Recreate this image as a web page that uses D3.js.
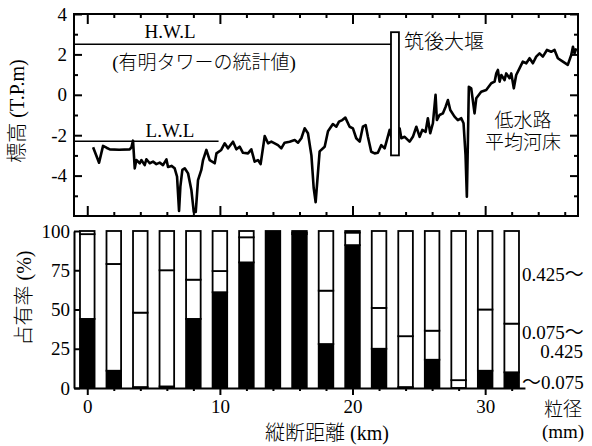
<!DOCTYPE html>
<html><head><meta charset="utf-8">
<script src="https://cdn.jsdelivr.net/npm/d3@7"></script>
<style>
body{margin:0;background:#fff;}
svg{display:block;}
text{font-family:"Liberation Serif","Noto Sans CJK JP",serif;fill:#000;}
.jp{font-weight:300;}
</style></head><body>
<svg id="chart" width="592" height="446"></svg>
<script>
// Longitudinal bed profile of the low-water channel (km, T.P.m)
const profileKm = [0.44,0.89,1.19,1.45,1.70,2.40,3.20,3.33,3.45,3.58,3.70,3.96,4.08,4.33,4.46,4.71,4.96,5.21,5.46,5.71,5.97,6.09,6.35,6.59,6.77,6.92,7.02,7.17,7.35,7.60,7.85,8.03,8.18,8.35,8.60,8.73,8.98,9.23,9.61,9.74,10.10,10.36,10.61,10.99,11.24,11.49,11.74,12.12,12.37,12.62,12.87,13.07,13.38,13.63,13.88,14.38,14.63,14.88,15.26,15.64,15.89,16.14,16.39,16.64,16.90,17.07,17.22,17.40,17.52,17.90,18.15,18.52,18.78,18.98,19.23,19.46,19.78,20.03,20.28,20.54,20.78,20.99,21.16,21.41,21.67,21.91,22.17,22.42,22.59,22.80,22.92,23.55,23.68,23.93,24.30,24.55,24.81,25.06,25.26,25.51,25.68,25.86,26.06,26.26,26.36,26.56,26.81,27.02,27.19,27.37,27.69,27.94,28.20,28.37,28.52,28.62,28.70,28.77,28.95,29.20,29.33,29.70,30.08,30.46,30.71,30.84,30.96,31.09,31.22,31.46,31.59,31.84,31.97,32.16,32.34,32.59,32.84,33.10,33.35,33.60,33.85,34.10,34.35,34.66,34.98,35.23,35.48,35.86,36.23,36.49,36.62,36.74,36.87];
const profileElev = [-2.60,-3.36,-2.53,-2.62,-2.70,-2.72,-2.70,-2.60,-2.27,-3.64,-3.23,-3.39,-3.23,-3.48,-3.19,-3.39,-3.31,-3.43,-3.36,-3.48,-3.20,-3.57,-3.52,-3.64,-4.05,-5.75,-4.55,-3.72,-3.64,-3.89,-4.71,-5.80,-5.80,-4.22,-3.72,-3.23,-2.73,-3.23,-3.39,-2.90,-2.73,-2.40,-2.65,-2.32,-2.70,-2.57,-2.87,-2.90,-2.70,-3.31,-3.23,-3.43,-2.04,-2.40,-2.32,-2.49,-2.65,-2.37,-2.32,-2.24,-2.37,-2.15,-1.66,-1.90,-3.00,-4.60,-5.32,-3.80,-2.80,-2.57,-1.80,-1.45,-1.58,-1.33,-1.25,-1.13,-1.58,-1.66,-2.15,-2.32,-1.58,-1.50,-2.08,-2.82,-2.90,-2.87,-2.49,-2.65,-2.24,-1.74,-2.08,-1.66,-2.15,-2.08,-2.32,-2.08,-1.58,-2.08,-1.74,-1.83,-1.16,-1.90,-1.41,0.00,-1.25,-1.00,-0.92,-0.59,-0.26,-0.75,-1.08,-1.25,-1.16,-1.41,-2.98,-5.04,-2.24,0.40,0.32,-0.92,-0.17,0.15,0.24,0.57,0.65,1.06,1.23,0.65,0.98,0.73,1.06,0.82,1.06,0.32,0.98,1.31,1.64,1.56,1.81,1.56,1.89,2.05,1.89,2.22,2.13,2.22,1.81,1.64,1.48,1.97,2.38,2.05,2.30];

// Tide levels and the Chikugo weir
const hwlElev = 2.5;
const hwlEndKm = 22.9;
const lwlElev = -2.3;
const lwlEndKm = 9.9;
const weirKm = [22.9, 23.5];
const weirElev = [-3.0, 3.1];

// Bed material composition by grain size (%), sampled every 2 km
const sampleKm = [0,2,4,6,8,10,12,14,16,18,20,22,24,26,28,30,32];
const fineShare   = [44, 11, 0.6, 1, 44, 61, 80, 100, 98, 28, 91, 25, 0.6, 18, 0, 11, 10];   // ~0.075 mm
const mediumShare = [54, 68, 47.4, 74, 25, 13.5, 16, 0, 1, 34, 8, 26, 32.4, 18.5, 5, 39, 31]; // 0.075~0.425 mm
const coarseShare = [2, 21, 52, 25, 31, 25.5, 4, 0, 1, 38, 1, 49, 67, 63.5, 95, 50, 59];     // 0.425 mm~

const elevTicks = [4, 2, 0, -2, -4];
const elevMinor = [3, 1, -1, -3, -5];
const shareTicks = [0, 25, 50, 75, 100];
const distTicks = [0, 10, 20, 30];
const distMinor = [2,4,6,8,12,14,16,18,22,24,26,28,32,34,36];

const svg = d3.select("#chart");

const x = d3.scaleLinear().domain([-1, 37]).range([74, 578]);
const yTop = d3.scaleLinear().domain([-6, 4]).range([216, 14]);
const xBot = d3.scaleLinear().domain([-1, 33]).range([x(-1), x(33)]);
const yBot = d3.scaleLinear().domain([0, 100]).range([388, 231]);

const AX = 2;
const TICK_FONT = 19;
const plain = d => String(d);   // hyphen-minus, as on the printed axis

function styleAxis(g) {
  g.selectAll("line").attr("stroke", "#000").attr("stroke-width", AX);
  g.selectAll("path.domain").remove();
  g.selectAll("text").attr("font-size", TICK_FONT).attr("fill", "#000")
    .attr("font-family", null);
}

// ---- upper panel: elevation profile ----
const upper = svg.append("g");

upper.append("g").attr("transform", `translate(${x(-1)},0)`)
  .call(d3.axisLeft(yTop).tickValues(elevTicks).tickSize(-8).tickPadding(7).tickFormat(plain)).call(styleAxis);
upper.append("g").attr("transform", `translate(${x(-1)},0)`)
  .call(d3.axisLeft(yTop).tickValues(elevMinor).tickSize(-4).tickFormat("")).call(styleAxis);
upper.append("g").attr("transform", `translate(${x(37)},0)`)
  .call(d3.axisRight(yTop).tickValues(elevTicks).tickSize(-8).tickFormat("")).call(styleAxis);
upper.append("g").attr("transform", `translate(${x(37)},0)`)
  .call(d3.axisRight(yTop).tickValues(elevMinor).tickSize(-4).tickFormat("")).call(styleAxis);
upper.append("g").attr("transform", `translate(0,${yTop(4)})`)
  .call(d3.axisTop(x).tickValues(distTicks).tickSize(-10).tickFormat("")).call(styleAxis);
upper.append("g").attr("transform", `translate(0,${yTop(4)})`)
  .call(d3.axisTop(x).tickValues(distMinor).tickSize(-4).tickFormat("")).call(styleAxis);
upper.append("g").attr("transform", `translate(0,${yTop(-6)})`)
  .call(d3.axisBottom(x).tickValues(distTicks).tickSize(-10).tickFormat("")).call(styleAxis);
upper.append("g").attr("transform", `translate(0,${yTop(-6)})`)
  .call(d3.axisBottom(x).tickValues(distMinor).tickSize(-4).tickFormat("")).call(styleAxis);

upper.append("rect")
  .attr("x", x(-1)).attr("y", yTop(4))
  .attr("width", x(37) - x(-1)).attr("height", yTop(-6) - yTop(4))
  .attr("fill", "none").attr("stroke", "#000").attr("stroke-width", AX);

// tide levels
upper.append("line")
  .attr("x1", x(-1)).attr("x2", x(hwlEndKm))
  .attr("y1", yTop(hwlElev)).attr("y2", yTop(hwlElev))
  .attr("stroke", "#000").attr("stroke-width", 1.6);
upper.append("line")
  .attr("x1", x(-1)).attr("x2", x(lwlEndKm))
  .attr("y1", yTop(lwlElev)).attr("y2", yTop(lwlElev))
  .attr("stroke", "#000").attr("stroke-width", 1.6);

// bed profile
const profile = profileKm.map((k, i) => [k, profileElev[i]]);
upper.append("path")
  .datum(profile)
  .attr("d", d3.line().x(d => x(d[0])).y(d => yTop(d[1])))
  .attr("fill", "none").attr("stroke", "#000")
  .attr("stroke-width", 2.6).attr("stroke-linejoin", "round");

// weir
upper.append("rect")
  .attr("x", x(weirKm[0])).attr("y", yTop(weirElev[1]))
  .attr("width", x(weirKm[1]) - x(weirKm[0]))
  .attr("height", yTop(weirElev[0]) - yTop(weirElev[1]))
  .attr("fill", "#fff").attr("stroke", "#000").attr("stroke-width", 1.8);

upper.append("text").attr("x", 170).attr("y", 38).attr("text-anchor", "middle")
  .attr("font-size", 19).text("H.W.L");
upper.append("text").attr("class", "jp").attr("x", 204).attr("y", 69).attr("text-anchor", "middle")
  .attr("font-size", 19).text("(有明タワーの統計値)");
upper.append("text").attr("x", 170).attr("y", 137).attr("text-anchor", "middle")
  .attr("font-size", 19).text("L.W.L");
upper.append("text").attr("class", "jp").attr("x", 444).attr("y", 49).attr("text-anchor", "middle")
  .attr("font-size", 20).text("筑後大堰");

// two-line label for the mean bed of the low-water channel
const bedLabel = upper.append("text").attr("class", "jp")
  .attr("text-anchor", "middle").attr("font-size", 19);
bedLabel.append("tspan").attr("x", 523).attr("y", 127).text("低水路");
bedLabel.append("tspan").attr("x", 523).attr("y", 149).text("平均河床");

svg.append("text").attr("class", "jp")
  .attr("transform", "translate(24,111) rotate(-90)")
  .attr("text-anchor", "middle").attr("font-size", 20)
  .text("標高 (T.P.m)");

// ---- lower panel: grain size composition ----
const lower = svg.append("g");

const rows = sampleKm.map((k, i) => ({km: k, fine: fineShare[i], medium: mediumShare[i], coarse: coarseShare[i]}));
const stack = d3.stack().keys(["fine", "medium", "coarse"])(rows);
const barW = x(1.1) - x(0);

lower.selectAll("g.layer").data(stack).join("g")
  .attr("class", "layer")
  .attr("fill", d => d.key === "fine" ? "#000" : "#fff")
  .selectAll("rect").data(d => d).join("rect")
  .attr("x", d => xBot(d.data.km) - barW / 2)
  .attr("width", barW)
  .attr("y", d => yBot(d[1]))
  .attr("height", d => yBot(d[0]) - yBot(d[1]))
  .attr("stroke", "#000").attr("stroke-width", 1.8);

lower.append("g").attr("transform", `translate(${xBot(-1)},0)`)
  .call(d3.axisLeft(yBot).tickValues(shareTicks).tickSize(-6).tickPadding(4).tickSizeOuter(0))
  .call(g => {
    g.select("path.domain").attr("stroke", "#000").attr("stroke-width", AX);
    g.selectAll("line").attr("stroke", "#000").attr("stroke-width", AX);
    g.selectAll("text").attr("font-size", TICK_FONT);
  });

lower.append("g").attr("transform", `translate(0,${yBot(0)})`)
  .call(d3.axisBottom(xBot).tickValues(distMinor.filter(d => d <= 33)).tickSize(3).tickFormat("").tickSizeOuter(0))
  .call(g => {
    g.select("path.domain").attr("stroke", "#000").attr("stroke-width", AX);
    g.selectAll("line").attr("stroke", "#000").attr("stroke-width", AX);
  });
lower.append("g").attr("transform", `translate(0,${yBot(0)})`)
  .call(d3.axisBottom(xBot).tickValues(distTicks).tickSize(7).tickPadding(5))
  .call(g => {
    g.select("path.domain").remove();
    g.selectAll("line").attr("stroke", "#000").attr("stroke-width", AX);
    g.selectAll("text").attr("font-size", TICK_FONT);
  });

svg.append("text").attr("class", "jp").attr("x", 327).attr("y", 440).attr("text-anchor", "middle")
  .attr("font-size", 20).text("縦断距離 (km)");
svg.append("text").attr("class", "jp")
  .attr("transform", "translate(31,298) rotate(-90)")
  .attr("text-anchor", "middle").attr("font-size", 20)
  .text("占有率 (%)");

// grain size legend
const sizeLabels = [
  {t: "0.425～", y: 281, a: "start", x: 522},
  {t: "0.075～", y: 339, a: "start", x: 522},
  {t: "0.425", y: 358, a: "end", x: 583},
  {t: "～0.075", y: 389, a: "start", x: 522}
];
svg.append("g").selectAll("text").data(sizeLabels).join("text")
  .attr("x", d => d.x).attr("y", d => d.y)
  .attr("text-anchor", d => d.a).attr("font-size", 19)
  .text(d => d.t);

const unitLabel = svg.append("text").attr("class", "jp").attr("text-anchor", "middle").attr("font-size", 19);
unitLabel.append("tspan").attr("x", 563).attr("y", 416).text("粒径");
unitLabel.append("tspan").attr("x", 563).attr("y", 438).text("(mm)");
</script>
</body></html>
